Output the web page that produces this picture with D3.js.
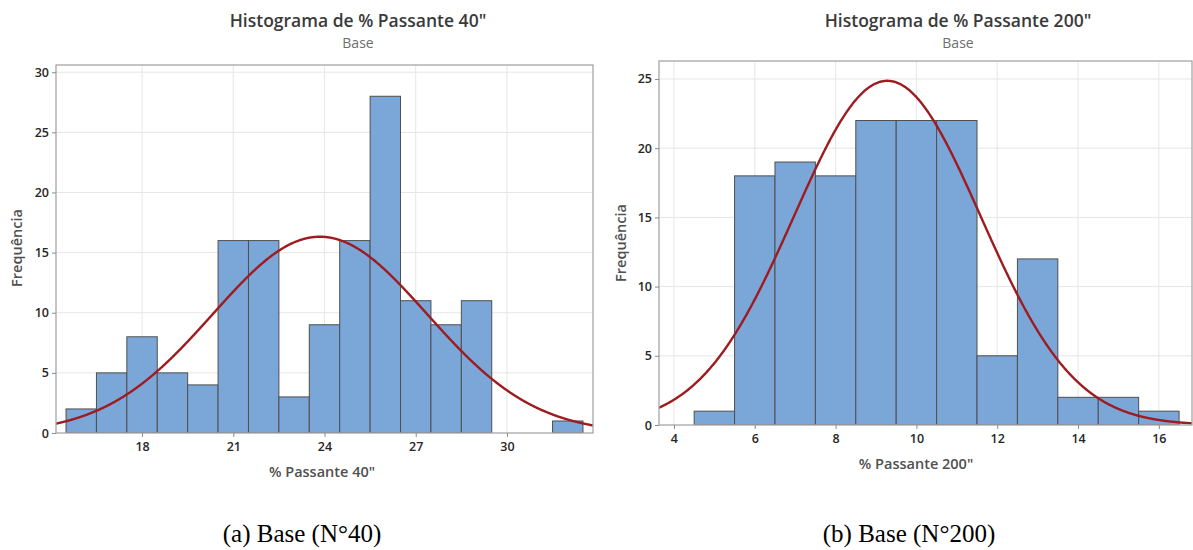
<!DOCTYPE html>
<html>
<head>
<meta charset="utf-8">
<script src="https://cdn.jsdelivr.net/npm/d3@7"></script>
<style>
  html, body { margin: 0; padding: 0; background: #fff; }
  svg { display: block; }
</style>
</head>
<body>
<svg id="chart" width="1193" height="550"></svg>
<script>
// ---------- Data ----------
// Left: % Passante 40"
const bins40 = [16, 17, 18, 19, 20, 21, 22, 23, 24, 25, 26, 27, 28, 29, 30, 31, 32];
const counts40 = [2, 5, 8, 5, 4, 16, 16, 3, 9, 16, 28, 11, 9, 11, 0, 0, 1];
const xTicks40 = [18, 21, 24, 27, 30];
const yTicks40 = [0, 5, 10, 15, 20, 25, 30];
const fitMean40 = 23.85;
const fitSd40 = 3.52;

// Right: % Passante 200"
const bins200 = [5, 6, 7, 8, 9, 10, 11, 12, 13, 14, 15, 16];
const counts200 = [1, 18, 19, 18, 22, 22, 22, 5, 12, 2, 2, 1];
const xTicks200 = [4, 6, 8, 10, 12, 14, 16];
const yTicks200 = [0, 5, 10, 15, 20, 25];
const fitMean200 = 9.28;
const fitSd200 = 2.31;

const titles = ['Histograma de % Passante 40"', 'Histograma de % Passante 200"'];
const subtitle = "Base";
const xLabels = ['% Passante 40"', '% Passante 200"'];
const yLabel = "Frequência";
const captions = ["(a) Base (N°40)", "(b) Base (N°200)"];

// ---------- Drawing ----------
const svg = d3.select("#chart");
const FONT = "'Open Sans', 'Noto Sans', sans-serif";

function drawHist(opt) {
  const g = svg.append("g");
  const x = d3.scaleLinear().domain(opt.xDomain).range([opt.left, opt.right]);
  const y = d3.scaleLinear().domain(opt.yDomain).range([opt.bottom, opt.top]);
  const clipId = "clip" + opt.id;
  svg.append("clipPath").attr("id", clipId).append("rect")
    .attr("x", opt.left).attr("y", opt.top)
    .attr("width", opt.right - opt.left).attr("height", opt.bottom - opt.top);

  // grid
  g.append("g").selectAll("line.v").data(opt.xTicks).join("line")
    .attr("x1", d => x(d)).attr("x2", d => x(d))
    .attr("y1", opt.top).attr("y2", opt.bottom)
    .attr("stroke", "#e6e6e6").attr("stroke-width", 1);
  g.append("g").selectAll("line.h").data(opt.yTicks.filter(d => d > 0)).join("line")
    .attr("x1", opt.left).attr("x2", opt.right)
    .attr("y1", d => y(d)).attr("y2", d => y(d))
    .attr("stroke", "#e6e6e6").attr("stroke-width", 1);

  // bars
  const bw = opt.binWidth;
  g.append("g").attr("clip-path", `url(#${clipId})`)
    .selectAll("rect").data(opt.bins.map((c, i) => ({ c, n: opt.counts[i] })).filter(d => d.n > 0))
    .join("rect")
    .attr("x", d => x(d.c - bw / 2))
    .attr("width", d => x(d.c + bw / 2) - x(d.c - bw / 2))
    .attr("y", d => y(d.n))
    .attr("height", d => y(0) - y(d.n))
    .attr("fill", "#7ba6d8")
    .attr("stroke", "#4f4f4f")
    .attr("stroke-width", 1);

  // fitted normal curve
  const N = d3.sum(opt.counts);
  const pdf = v => N * bw / (opt.sd * Math.sqrt(2 * Math.PI)) * Math.exp(-0.5 * Math.pow((v - opt.mean) / opt.sd, 2));
  const xs = d3.range(opt.xDomain[0], opt.xDomain[1] + 0.02, 0.02);
  g.append("path")
    .attr("clip-path", `url(#${clipId})`)
    .datum(xs)
    .attr("d", d3.line().x(v => x(v)).y(v => y(pdf(v))).curve(d3.curveBasis))
    .attr("fill", "none")
    .attr("stroke", "#9e1b20")
    .attr("stroke-width", 2.4);

  // frame
  g.append("rect")
    .attr("x", opt.left).attr("y", opt.top)
    .attr("width", opt.right - opt.left).attr("height", opt.bottom - opt.top)
    .attr("fill", "none").attr("stroke", "#a6a6a6").attr("stroke-width", 1.3);

  // axes
  const xAxis = d3.axisBottom(x).tickValues(opt.xTicks).tickSize(4).tickSizeOuter(0).tickPadding(5);
  const yAxis = d3.axisLeft(y).tickValues(opt.yTicks).tickSize(4).tickSizeOuter(0).tickPadding(3);
  const gx = g.append("g").attr("transform", `translate(0,${opt.bottom})`).call(xAxis);
  const gy = g.append("g").attr("transform", `translate(${opt.left},0)`).call(yAxis);
  [gx, gy].forEach(a => {
    a.select(".domain").remove();
    a.selectAll("line").attr("stroke", "#8c8c8c");
    a.selectAll("text").attr("font-family", FONT).attr("font-size", 12.5)
      .attr("font-weight", 600).attr("fill", "#262626");
  });

  // titles
  g.append("text").attr("x", opt.titleX).attr("y", 27).attr("text-anchor", "middle")
    .attr("font-family", FONT).attr("font-size", 17.5).attr("font-weight", 600)
    .attr("fill", "#3a3a3a").text(opt.title);
  g.append("text").attr("x", opt.titleX).attr("y", 48).attr("text-anchor", "middle")
    .attr("font-family", FONT).attr("font-size", 14)
    .attr("fill", "#6e6e6e").text(subtitle);

  // axis labels
  g.append("text").attr("x", opt.xLabelX).attr("y", opt.bottom + 44).attr("text-anchor", "middle")
    .attr("font-family", FONT).attr("font-size", 14.5).attr("font-weight", 600)
    .attr("fill", "#505050").text(opt.xLabel);
  g.append("text")
    .attr("transform", `translate(${opt.yLabelX},${opt.yLabelY}) rotate(-90)`)
    .attr("text-anchor", "middle")
    .attr("font-family", FONT).attr("font-size", 14.5).attr("font-weight", 600)
    .attr("fill", "#505050").text(yLabel);

  // caption
  g.append("text").attr("x", opt.captionX).attr("y", 542).attr("text-anchor", "middle")
    .attr("font-family", "'Liberation Serif', 'Times New Roman', serif").attr("font-size", 25)
    .attr("fill", "#000").text(opt.caption);
}

drawHist({
  id: "a", bins: bins40, counts: counts40, binWidth: 1,
  xTicks: xTicks40, yTicks: yTicks40, mean: fitMean40, sd: fitSd40,
  xDomain: [15.17, 32.83], yDomain: [0, 30.6],
  left: 56, right: 593, top: 65, bottom: 433,
  title: titles[0], titleX: 358, xLabel: xLabels[0], xLabelX: 322,
  yLabelX: 22, yLabelY: 248, caption: captions[0], captionX: 302
});

drawHist({
  id: "b", bins: bins200, counts: counts200, binWidth: 1,
  xTicks: xTicks200, yTicks: yTicks200, mean: fitMean200, sd: fitSd200,
  xDomain: [3.63, 16.82], yDomain: [0, 26.3],
  left: 659, right: 1192, top: 61, bottom: 425,
  title: titles[1], titleX: 958, xLabel: xLabels[1], xLabelX: 916,
  yLabelX: 626, yLabelY: 243, caption: captions[1], captionX: 909
});
</script>
</body>
</html>
